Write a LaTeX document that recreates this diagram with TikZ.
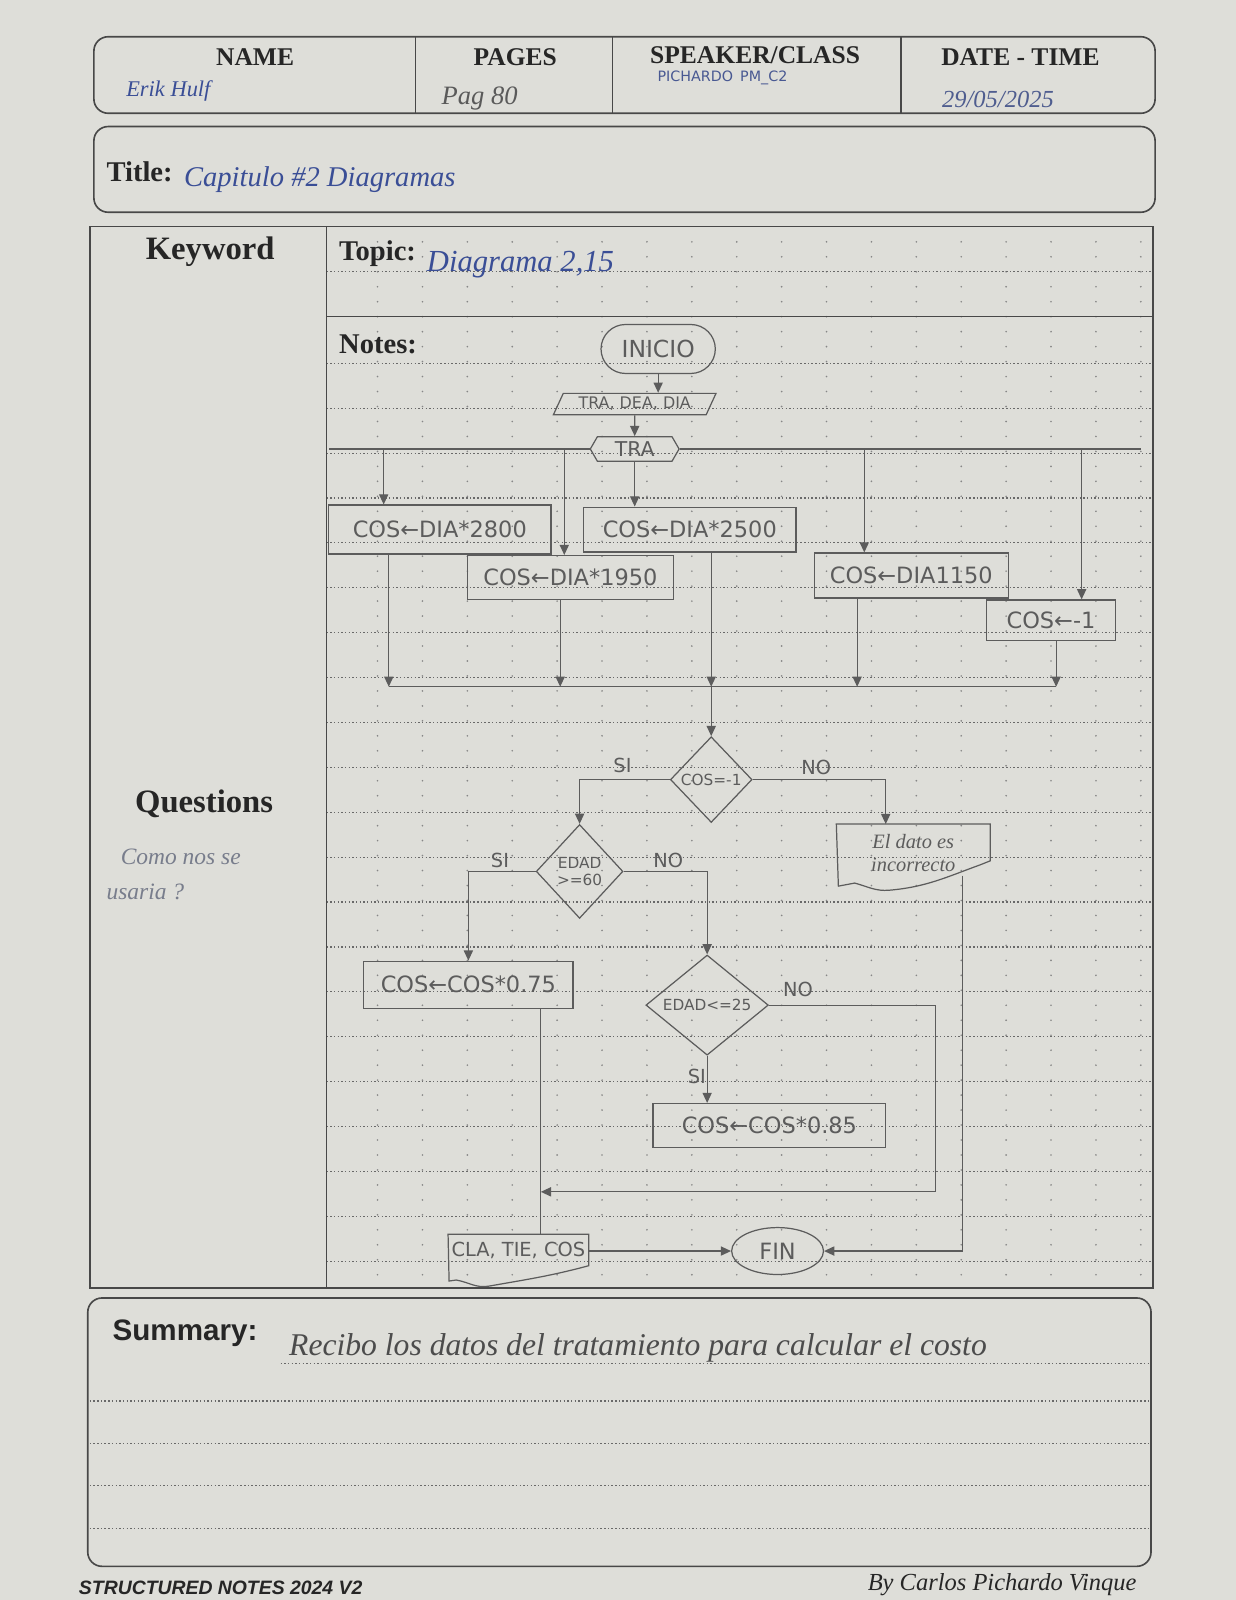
\documentclass[tikz,border=0pt]{standalone}
\usepackage{fontspec}
\setmainfont{Liberation Serif}
\newfontfamily\pencilfont{DejaVu Sans}
\newfontfamily\printsans{Liberation Sans}
\usetikzlibrary{arrows.meta,shapes.geometric,shapes.misc,shapes.symbols,calc}

\definecolor{paper}{RGB}{222,222,217}
\definecolor{printink}{RGB}{72,72,72}
\definecolor{rulegray}{RGB}{105,105,105}
\definecolor{graphite}{RGB}{92,92,92}
\definecolor{ink}{RGB}{58,78,150}
\definecolor{fadedink}{RGB}{120,125,140}

\begin{document}
\begin{tikzpicture}[x=0.5pt,y=-0.5pt,
  frame/.style={draw=printink, line width=0.8pt, rounded corners=7pt},
  divider/.style={draw=printink, line width=0.6pt},
  ruled/.style={draw=rulegray, line width=0.55pt, dash pattern=on 0.7pt off 1.1pt},
  heading/.style={font=\fontsize{12.5}{13}\selectfont\bfseries, text=black!85, inner sep=0pt},
  hand/.style={font=\fontsize{12}{13}\selectfont\itshape, text=ink, inner sep=0pt},
  pen/.style={draw=graphite, line width=0.6pt},
  arr/.style={pen, -{Triangle[length=5pt,width=4.5pt]}},
  lbl/.style={font=\pencilfont\fontsize{9.5}{10}\selectfont, text=graphite, inner sep=0pt},
  proc/.style={pen, rectangle, inner sep=0pt, font=\pencilfont\fontsize{11}{12}\selectfont, text=graphite},
  startstop/.style={pen, rounded rectangle, inner sep=0pt, font=\pencilfont\fontsize{11.5}{12}\selectfont, text=graphite},
  io/.style={pen, trapezium, trapezium left angle=60, trapezium right angle=120, trapezium stretches=true, inner sep=0pt, font=\pencilfont\fontsize{7.8}{9}\selectfont, text=graphite},
  sel/.style={pen, signal, signal to=west and east, signal pointer angle=120, inner sep=0pt, font=\pencilfont\fontsize{10}{10}\selectfont, text=graphite},
  dec/.style={pen, diamond, inner sep=0pt, align=center, font=\pencilfont\fontsize{7.5}{8.5}\selectfont, text=graphite},
  docnode/.style={inner sep=0pt, align=center, text=graphite},
]

% page
\fill[paper] (0,0) rectangle (1211,1568);
\useasboundingbox (0,0) rectangle (1211,1568);

% ---------- header strip ----------
\draw[frame] (92,36) rectangle (1132,111);
\draw[divider] (407,36) -- (407,111);
\draw[divider] (600,36) -- (600,111);
\draw[divider] (883,36) -- (883,111);
\node[heading] (hname) at (250,56) {NAME};
\node[heading] (hpages) at (505,56) {PAGES};
\node[heading] (hspeaker) at (740,54) {SPEAKER/CLASS};
\node[heading] (hdate) at (1000,56) {DATE - TIME};
\node[hand, font=\fontsize{11}{12}\selectfont\itshape] (vname) at (165,89) {Erik Hulf};
\node[hand, text=printink!90, font=\fontsize{13}{14}\selectfont\itshape] (vpages) at (470,97) {Pag 80};
\node[hand, font=\pencilfont\fontsize{7}{8}\selectfont, text=ink!80!gray] (vspeaker) at (708,76) {PICHARDO\enspace PM\_C2};
\node[hand, text=ink!70!gray, font=\fontsize{12}{13}\selectfont\itshape] (vdate) at (978,97) {29/05/2025};

% ---------- title strip ----------
\draw[frame] (92,124) rectangle (1132,208);
\node[heading, anchor=west, font=\fontsize{14}{15}\selectfont\bfseries] (htitle) at (104,168) {Title:};
\node[hand, anchor=west, font=\fontsize{14}{15}\selectfont\itshape] (vtitle) at (180,176) {Capitulo \#2 Diagramas};

% ---------- main notes block ----------
\fill[rulegray!80] foreach \x in {370,414,...,1118} { foreach \y in {237,251.67,...,1255} { (\x,\y) circle (0.45pt) } };
\draw[ruled] (320,266) -- (1130,266);
\draw[divider] (320,310) -- (1130,310);
\foreach \y in {356,400,...,1236} \draw[ruled] (320,\y) -- (1130,\y);
\draw[printink, line width=0.8pt] (88,222) rectangle (1130,1262);
\draw[divider] (320,222) -- (320,1262);

\node[heading, font=\fontsize{16}{17}\selectfont\bfseries] (hkey) at (206,247) {Keyword};
\node[heading, anchor=west, font=\fontsize{14}{15}\selectfont\bfseries] (htopic) at (332,249) {Topic:};
\node[hand, anchor=west, font=\fontsize{15}{16}\selectfont\itshape] (vtopic) at (418,259) {Diagrama 2,15};
\node[heading, anchor=west, font=\fontsize{14}{15}\selectfont\bfseries] (hnotes) at (332,337) {Notes:};
\node[heading, font=\fontsize{16}{17}\selectfont\bfseries] (hquest) at (200,788) {Questions};
\node[hand, anchor=north west, align=left, text=fadedink, font=\fontsize{11.5}{17}\selectfont\itshape] (vquest) at (104,832) {\hspace*{7pt}Como nos se\\usaria ?};

% ---------- flowchart ----------
\node[startstop, minimum width=56pt, minimum height=24pt] (inicio) at (645,342) {INICIO};
\node[io, minimum width=80pt, minimum height=10.5pt] (read) at (622,396) {TRA, DEA, DIA};
\node[sel, minimum width=43.5pt, minimum height=12pt] (tra) at (622,440) {TRA};

\node[proc, minimum width=109pt, minimum height=24pt] (c2800) at (431,519) {COS←DIA*2800};
\node[proc, minimum width=101pt, minimum height=21.5pt] (c1950) at (559,566) {COS←DIA*1950};
\node[proc, minimum width=104pt, minimum height=22pt] (c2500) at (676,519) {COS←DIA*2500};
\node[proc, minimum width=95pt, minimum height=22pt] (c1150) at (893,564) {COS←DIA1150};
\node[proc, minimum width=63pt, minimum height=20pt] (cneg) at (1030,608) {COS←-1};

\node[dec, minimum width=40pt, minimum height=42pt] (d1) at (697,764) {COS=-1};
\node[dec, minimum width=42.5pt, minimum height=46pt] (d2) at (568,854) {EDAD\\>=60};
\node[dec, minimum width=60pt, minimum height=42.5pt] (d3) at (693,985) {EDAD<=25};

\node[docnode, minimum width=75pt, minimum height=24pt, font=\itshape\fontsize{10}{11}\selectfont] (err) at (895,836) {El dato es\\incorrecto};
\node[proc, minimum width=102.5pt, minimum height=23pt] (c075) at (459,965) {COS←COS*0.75};
\node[proc, minimum width=114pt, minimum height=21.5pt] (c085) at (754,1103) {COS←COS*0.85};
\node[docnode, minimum width=68.5pt, minimum height=15pt, font=\pencilfont\fontsize{9.5}{10}\selectfont] (out) at (508,1225) {CLA, TIE, COS};
\node[pen, ellipse, inner sep=0pt, minimum width=45pt, minimum height=23pt, font=\pencilfont\fontsize{11}{11}\selectfont, text=graphite] (fin) at (762,1226) {FIN};

% document outlines with a wavy lower edge
\draw[pen] ($(err.north west)+(0,-4)$) -- ($(err.north east)+(0,-4)$) -- ($(err.north east)+(0,32)$) -- ++(-10,4)
  to[out=200,in=5] ($(err.south west)+(52,12)$) to[out=185,in=-15] ($(err.south west)+(18,5)$) -- ($(err.south west)+(2,8)$) -- cycle;
\draw[pen] (out.north west) -- (out.north east) -- (out.south east)
  to[out=195,in=10] ($(out.south west)+(40,20)$) to[out=190,in=-10] ($(out.south west)+(8,14)$) -- ($(out.south west)+(1,15)$) -- cycle;

% branch and merge points
\coordinate (tl) at (322,440);
\coordinate (tr) at (1118,440);
\coordinate (t1) at (376,440);
\coordinate (t2) at (553,440);
\coordinate (t4) at (847,440);
\coordinate (t5) at (1060,440);
\coordinate (m1) at (381,673);
\coordinate (m2) at (549,673);
\coordinate (m3) at (697,673);
\coordinate (m4) at (840,673);
\coordinate (m5) at (1035,673);
\coordinate (errtap) at (868,764);
\coordinate (join) at (530,1168);
\coordinate (loopr) at (917,1168);
\coordinate (errdrop) at (943,858);

% connectors
\draw[arr] (inicio.south) -- (inicio.south |- read.north);
\draw[arr] (read) -- (tra);
\draw[pen] (tra.west) -- (tl);
\draw[pen] (tra.east) -- (tr);
\draw[arr] (t1) -- (t1 |- c2800.north);
\draw[arr] (t2) -- (t2 |- c1950.north);
\draw[arr] (tra.south) -- (tra.south |- c2500.north);
\draw[arr] (t4) -- (t4 |- c1150.north);
\draw[arr] (t5) -- (t5 |- cneg.north);

\draw[arr] (m1 |- c2800.south) -- (m1);
\draw[arr] (m2 |- c1950.south) -- (m2);
\draw[arr] (m3 |- c2500.south) -- (m3);
\draw[arr] (m4 |- c1150.south) -- (m4);
\draw[arr] (m5 |- cneg.south) -- (m5);
\draw[pen] (m1) -- (m5);
\draw[arr] (m3) -- (d1.north);

\draw[arr] (d1.west) -| (d2.north);
\draw[arr] (d1.east) -- (errtap) -- ($(errtap |- err.north)+(0,-4)$);
\draw[arr] (d2.west) -| (c075.north);
\draw[arr] (d2.east) -| (d3.north);
\draw[arr] (d3.south) -- (d3.south |- c085.north);
\draw[arr] (d3.east) -| (loopr) -- (join);
\draw[pen] (join |- c075.south) -- (join |- out.north);
\draw[arr] (fin.west -| out.east) -- (fin.west);
\draw[arr] (errdrop) |- (fin.east);

% branch labels
\node[lbl] (si1) at (610,750) {SI};
\node[lbl] (no1) at (800,752) {NO};
\node[lbl] (si2) at (490,843) {SI};
\node[lbl] (no2) at (655,843) {NO};
\node[lbl] (no3) at (782,970) {NO};
\node[lbl] (si3) at (683,1055) {SI};

% ---------- summary ----------
\draw[frame] (86,1272) rectangle (1128,1535);
\node[heading, anchor=west, font=\printsans\fontsize{14.5}{15}\selectfont\bfseries] (hsum) at (110,1307) {Summary:};
\node[hand, anchor=west, text=black!70, font=\fontsize{15.5}{16}\selectfont\itshape] (vsum) at (283,1321) {Recibo los datos del tratamiento para calcular el costo};
\draw[ruled] (275,1336) -- (1125,1336);
\foreach \y in {1373,1415,1456,1498} \draw[ruled] (88,\y) -- (1125,\y);

% ---------- footer ----------
\node[anchor=west, inner sep=0pt, text=black!85, font=\printsans\fontsize{9.5}{10}\selectfont\bfseries\itshape] (foot) at (77,1556) {STRUCTURED NOTES 2024 V2};
\node[anchor=west, inner sep=0pt, text=black!85, font=\fontsize{12}{13}\selectfont\itshape] (author) at (850,1553) {By Carlos Pichardo Vinque};

\end{tikzpicture}
\end{document}
